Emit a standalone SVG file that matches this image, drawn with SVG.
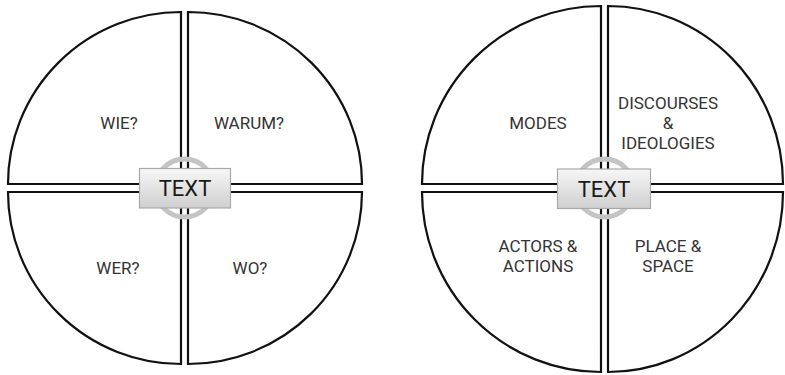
<svg xmlns="http://www.w3.org/2000/svg" width="785" height="375" viewBox="0 0 785 375">
<defs>
<linearGradient id="boxg" x1="0" y1="0" x2="0" y2="1">
<stop offset="0" stop-color="#f7f7f7"/>
<stop offset="1" stop-color="#cfcfcf"/>
</linearGradient>
</defs>
<style>
.sec{fill:#fff;stroke:#111;stroke-width:2.2;stroke-linejoin:miter}
.lbl{font-family:Roboto,"Open Sans",sans-serif;font-size:17px;fill:#333;text-anchor:middle}
.ring{fill:none;stroke:#c4c4c4;stroke-width:5}
.box{fill:url(#boxg);stroke:#a8a8a8;stroke-width:1.2}
.bt{font-family:Roboto,"Open Sans",sans-serif;font-size:22px;fill:#1a1a1a;text-anchor:middle}
</style>
<rect width="785" height="375" fill="#fff"/>
<g id="left-diagram">
<g id="wie"><path class="sec" d="M181,184 L8,184 A173,172 0 0 1 181,12 Z"/><text class="lbl" x="119" y="128.5">WIE?</text></g>
<g id="warum"><path class="sec" d="M188,184 L188,12 A174,172 0 0 1 362,184 Z"/><text class="lbl" x="249" y="128.5">WARUM?</text></g>
<g id="wer"><path class="sec" d="M181,192 L8,192 A173,172 0 0 0 181,364 Z"/><text class="lbl" x="118" y="273.5">WER?</text></g>
<g id="wo"><path class="sec" d="M188,192 L188,364 A174,172 0 0 0 362,192 Z"/><text class="lbl" x="250" y="273.5">WO?</text></g>
<g id="text-left"><circle class="ring" cx="184.5" cy="188" r="29"/><rect class="box" x="139.5" y="168.5" width="91" height="39.5"/><text class="bt" x="185" y="196">TEXT</text></g>
</g>
<g id="right-diagram">
<g id="modes"><path class="sec" d="M601,184 L422,184 A179,178 0 0 1 601,6 Z"/><text class="lbl" x="538" y="128.5">MODES</text></g>
<g id="discourses"><path class="sec" d="M608,184 L608,6 A175,178 0 0 1 783,184 Z"/><text class="lbl" x="668" y="108.5">DISCOURSES</text><text class="lbl" x="668" y="128.5">&amp;</text><text class="lbl" x="668" y="148.5">IDEOLOGIES</text></g>
<g id="actors"><path class="sec" d="M601,192 L422,192 A179,180 0 0 0 601,372 Z"/><text class="lbl" x="538" y="252">ACTORS &amp;</text><text class="lbl" x="538" y="272">ACTIONS</text></g>
<g id="place"><path class="sec" d="M608,192 L608,372 A175,180 0 0 0 783,192 Z"/><text class="lbl" x="668" y="252">PLACE &amp;</text><text class="lbl" x="668" y="272">SPACE</text></g>
<g id="text-right"><circle class="ring" cx="604.5" cy="188" r="29"/><rect class="box" x="557.5" y="169" width="93" height="39.5"/><text class="bt" x="604" y="197">TEXT</text></g>
</g>
<g id="connectors"/>
</svg>
